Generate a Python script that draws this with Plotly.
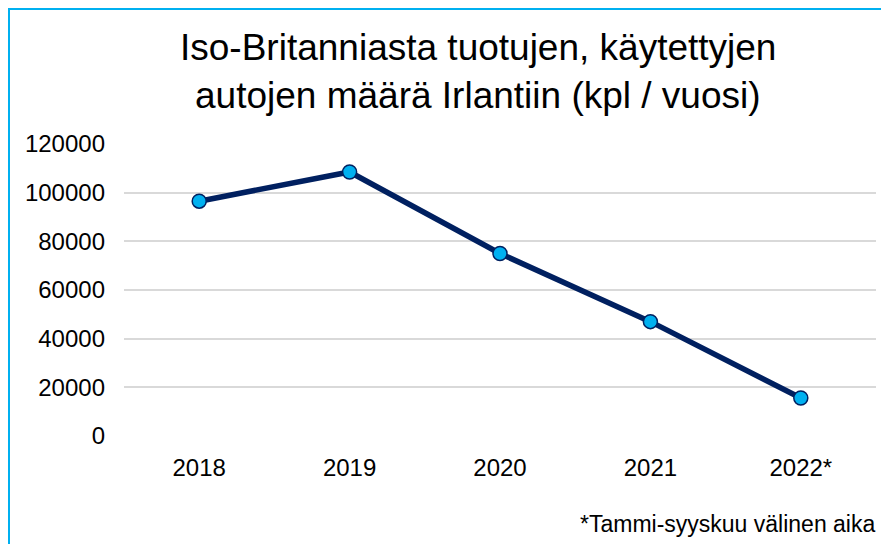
import plotly.graph_objects as go

years = ["2018", "2019", "2020", "2021", "2022*"]
cars = [96500, 108500, 75000, 47000, 15600]
y_ticks = [0, 20000, 40000, 60000, 80000, 100000, 120000]

title_lines = ["Iso-Britanniasta tuotujen, käytettyjen", "autojen määrä Irlantiin (kpl / vuosi)"]
footnote = "*Tammi-syyskuu välinen aika"

# page body adds an 8px margin, so the figure is sized to the visible area
W, H = 881, 536
L, R, T, B = 116, 13, 136, 108
pw, ph = W - L - R, H - T - B

def px_x(x):
    return (x - L) / pw

def px_y(y):
    return (H - B - y) / ph

FONT = "Liberation Sans, Arial, sans-serif"

fig = go.Figure()
fig.add_trace(go.Scatter(
    x=years, y=cars, mode="lines+markers",
    line=dict(color="#002060", width=5.5),
    marker=dict(size=14, color="#00B0F0", line=dict(color="#002060", width=1.5)),
    showlegend=False, hoverinfo="x+y",
))

fig.update_layout(
    width=W, height=H,
    margin=dict(l=L, r=R, t=T, b=B, pad=0),
    paper_bgcolor="white", plot_bgcolor="white",
    font=dict(family=FONT, color="#000000", size=24),
    xaxis=dict(type="category", range=[-0.5, len(years) - 0.5],
               showgrid=False, zeroline=False, showline=False,
               ticks="", tickfont=dict(size=24), ticklabelstandoff=15),
    yaxis=dict(range=[0, 120000], tickvals=y_ticks, ticktext=[str(v) for v in y_ticks],
               showgrid=True, gridcolor="#D9D9D9", gridwidth=1.5, zeroline=False,
               showline=False, ticks="", tickfont=dict(size=24), ticklabelstandoff=18),
    shapes=[dict(type="rect", xref="paper", yref="paper",
                 x0=px_x(1), x1=px_x(900), y0=px_y(560), y1=px_y(1),
                 line=dict(color="#00B0F0", width=2), fillcolor="rgba(0,0,0,0)", layer="below")],
    annotations=[
        dict(text=title_lines[0], xref="paper", yref="paper", x=px_x(470), y=px_y(62),
             xanchor="center", yanchor="bottom", showarrow=False,
             font=dict(size=37, family=FONT, color="#000000")),
        dict(text=title_lines[1], xref="paper", yref="paper", x=px_x(470), y=px_y(110),
             xanchor="center", yanchor="bottom", showarrow=False,
             font=dict(size=37, family=FONT, color="#000000")),
        dict(text=footnote, xref="paper", yref="paper", x=px_x(869), y=px_y(531),
             xanchor="right", yanchor="bottom", showarrow=False,
             font=dict(size=23, family=FONT, color="#000000")),
    ],
)

fig.write_html("out.html")
